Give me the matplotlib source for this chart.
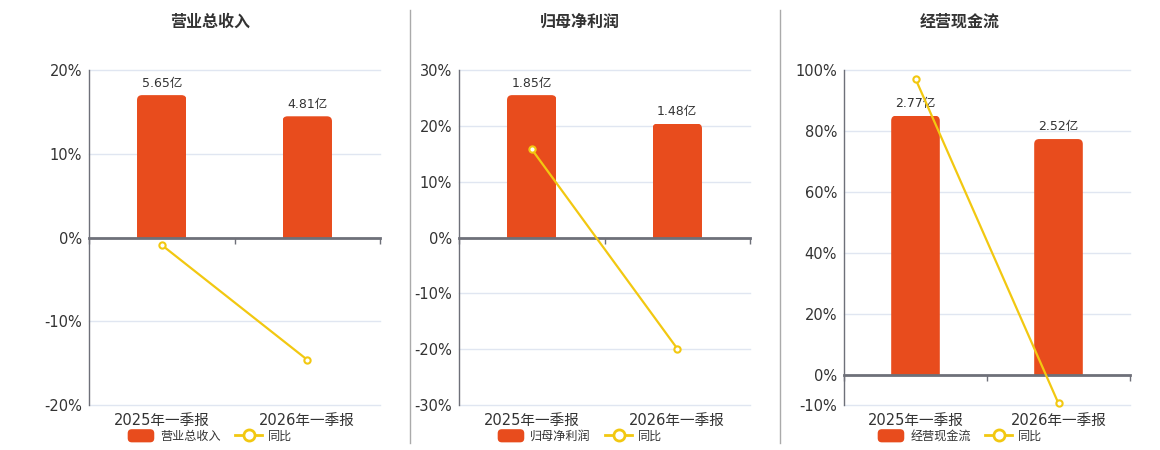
import numpy as np
import matplotlib
matplotlib.use('Agg')
import matplotlib.pyplot as plt
from matplotlib.patches import FancyBboxPatch, Patch
from matplotlib.lines import Line2D
from matplotlib.ticker import FuncFormatter
from matplotlib.legend_handler import HandlerPatch

plt.rcParams['font.family'] = ['DejaVu Sans', 'Noto Sans CJK SC']

W, H = 1160, 450

categories = ['2025年一季报', '2026年一季报']
titles = ['营业总收入', '归母净利润', '经营现金流']

revenue = [5.65, 4.81]
revenue_yoy = [-0.9, -14.6]
profit = [1.85, 1.48]
profit_yoy = [15.8, -19.9]
cashflow = [2.77, 2.52]
cashflow_yoy = [97.1, -9.5]

values = [revenue, profit, cashflow]
yoys = [revenue_yoy, profit_yoy, cashflow_yoy]
yticks = [[-20, -10, 0, 10, 20],
          [-30, -20, -10, 0, 10, 20, 30],
          [-10, 0, 20, 40, 60, 80, 100]]

# pixel boxes of the plot areas: left, right, top, bottom
boxes = [(89, 380, 70, 405), (459, 750, 70, 405), (844, 1130, 70, 405)]
centers = [210, 580, 960]

bar_color = '#E84C1D'
line_color = '#F2C811'
axis_color = '#6E7079'
grid_color = '#E0E6F1'
text_color = '#333333'


def round_handle(legend, orig_handle, xdescent, ydescent, width, height, fontsize):
    return FancyBboxPatch((-xdescent, -ydescent), width, height,
                          boxstyle='round,pad=0,rounding_size=3')


fig = plt.figure(figsize=(W / 100, H / 100), dpi=100)

for i in range(3):
    l, r, t, b = boxes[i]
    rect_fig = [l / W, 1 - b / H, (r - l) / W, (b - t) / H]

    # percent axis: grid, y labels, category labels
    ax = fig.add_axes(rect_fig, zorder=1)
    ticks = yticks[i]
    lo, hi = ticks[0], ticks[-1]
    ax.set_ylim(lo, hi)
    ax.set_xlim(-0.5, 1.5)
    ax.set_yticks(ticks)
    ax.yaxis.set_major_formatter(FuncFormatter(lambda v, p: f'{v:.0f}%'))
    ax.tick_params(axis='y', length=0, labelsize=10.5, labelcolor=text_color, pad=5)
    ax.set_xticks([0, 1])
    ax.set_xticklabels(categories)
    ax.tick_params(axis='x', length=0, labelsize=10.5, labelcolor=text_color, pad=6)
    for s in ['top', 'right', 'bottom']:
        ax.spines[s].set_visible(False)
    ax.spines['left'].set_color(axis_color)
    ax.spines['left'].set_linewidth(1)
    for v in ticks:
        if v != 0:
            ax.axhline(v, color=grid_color, lw=1, zorder=0, clip_on=False)

    # bar axis on top, zero aligned with the percent axis
    bx = fig.add_axes(rect_fig, zorder=2)
    bx.patch.set_visible(False)
    top = max(values[i]) / 0.85
    bx.set_ylim(top * lo / hi, top)
    bx.set_xlim(-0.5, 1.5)
    bx.yaxis.set_visible(False)
    for s in ['top', 'right', 'left']:
        bx.spines[s].set_visible(False)
    bx.spines['bottom'].set_position(('data', 0))
    bx.spines['bottom'].set_color(axis_color)
    bx.spines['bottom'].set_linewidth(2)
    bx.set_xticks([-0.5, 0.5, 1.5])
    bx.tick_params(axis='x', length=4, width=1, color=axis_color, direction='out',
                   labelbottom=False)

    bars = bx.bar([0, 1], values[i], width=0.34, color=bar_color, zorder=2)
    bx.bar_label(bars, labels=[f'{v:.2f}亿' for v in values[i]], padding=4,
                 fontsize=9, color=text_color)

    xpp = 2.0 / (r - l)
    ypp = (top - top * lo / hi) / (b - t)
    rx = 5 * xpp
    for rect in bars:
        x0, y0 = rect.get_x(), rect.get_y()
        w, h = rect.get_width(), rect.get_height()
        p = FancyBboxPatch((x0, y0 - h * 0.2), w, h * 1.2,
                           boxstyle=f'round,pad=0,rounding_size={rx}',
                           mutation_aspect=ypp / xpp,
                           fc=bar_color, ec='none', zorder=2)
        bx.add_patch(p)
        p.set_clip_path(rect)
        rect.set_visible(False)

    bx.plot([0, 1], yoys[i], color=line_color, lw=1.6, marker='o', ms=4.5,
            mfc='white', mec=line_color, mew=1.5, transform=ax.transData,
            zorder=5, clip_on=False)

    fig.text(centers[i] / W, 1 - 22 / H, titles[i], ha='center', va='center',
             fontsize=11.5, fontweight='bold', color=text_color)

    handles = [Patch(fc=bar_color, ec='none', label=titles[i]),
               Line2D([], [], color=line_color, lw=2, marker='o', ms=8,
                      mfc='white', mec=line_color, mew=2, label='同比')]
    fig.legend(handles=handles, loc='center', bbox_to_anchor=(centers[i] / W, 1 - 436 / H),
               ncol=2, frameon=False, fontsize=8.7, handlelength=2.2, handleheight=1.3,
               columnspacing=1.2, handletextpad=0.5, labelcolor=text_color,
               handler_map={Patch: HandlerPatch(patch_func=round_handle)})

for xd in [410, 780]:
    fig.add_artist(Line2D([xd / W, xd / W], [1 - 443 / H, 1 - 10 / H], color='#AAAAAA', lw=1))

fig.savefig('out.png', dpi=100)
